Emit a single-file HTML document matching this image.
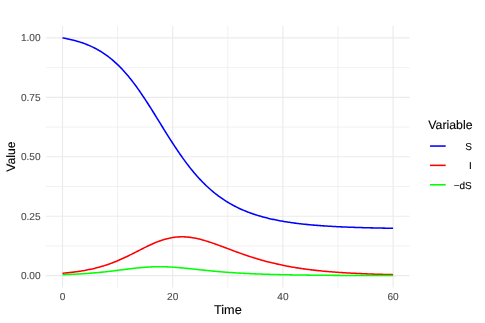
<!DOCTYPE html><html><head><meta charset="utf-8"><style>html,body{margin:0;padding:0;background:#fff}svg{display:block;will-change:transform}text{font-family:"Liberation Sans",sans-serif;text-rendering:geometricPrecision}</style></head><body>
<svg width="485" height="323" viewBox="0 0 485 323">
<rect width="485" height="323" fill="#fff"/>
<g stroke="#ebebeb" stroke-width="0.7" fill="none">
<line x1="45.9" x2="409.8" y1="245.94" y2="245.94"/>
<line x1="45.9" x2="409.8" y1="186.51" y2="186.51"/>
<line x1="45.9" x2="409.8" y1="127.07" y2="127.07"/>
<line x1="45.9" x2="409.8" y1="67.64" y2="67.64"/>
<line y1="26.0" y2="287.45" x1="117.60" x2="117.60"/>
<line y1="26.0" y2="287.45" x1="227.80" x2="227.80"/>
<line y1="26.0" y2="287.45" x1="338.00" x2="338.00"/>
</g>
<g stroke="#ebebeb" stroke-width="1.15" fill="none">
<line x1="45.9" x2="409.8" y1="275.66" y2="275.66"/>
<line x1="45.9" x2="409.8" y1="216.23" y2="216.23"/>
<line x1="45.9" x2="409.8" y1="156.79" y2="156.79"/>
<line x1="45.9" x2="409.8" y1="97.36" y2="97.36"/>
<line x1="45.9" x2="409.8" y1="37.92" y2="37.92"/>
<line y1="26.0" y2="287.45" x1="62.50" x2="62.50"/>
<line y1="26.0" y2="287.45" x1="172.70" x2="172.70"/>
<line y1="26.0" y2="287.45" x1="282.90" x2="282.90"/>
<line y1="26.0" y2="287.45" x1="393.10" x2="393.10"/>
</g>
<g fill="none" stroke-width="1.55" stroke-linejoin="round" stroke-linecap="butt">
<path stroke="#0000ff" d="M62.50,37.92 L63.60,38.11 L64.70,38.32 L65.81,38.53 L66.91,38.74 L68.01,38.97 L69.11,39.21 L70.21,39.45 L71.32,39.70 L72.42,39.97 L73.52,40.24 L74.62,40.53 L75.72,40.83 L76.83,41.13 L77.93,41.45 L79.03,41.78 L80.13,42.13 L81.23,42.49 L82.34,42.86 L83.44,43.24 L84.54,43.64 L85.64,44.05 L86.74,44.48 L87.85,44.93 L88.95,45.39 L90.05,45.87 L91.15,46.36 L92.25,46.87 L93.36,47.40 L94.46,47.95 L95.56,48.52 L96.66,49.11 L97.76,49.71 L98.87,50.34 L99.97,50.99 L101.07,51.66 L102.17,52.35 L103.27,53.07 L104.38,53.81 L105.48,54.57 L106.58,55.35 L107.68,56.16 L108.78,57.00 L109.89,57.86 L110.99,58.74 L112.09,59.65 L113.19,60.59 L114.29,61.56 L115.40,62.55 L116.50,63.56 L117.60,64.61 L118.70,65.68 L119.80,66.78 L120.91,67.91 L122.01,69.07 L123.11,70.25 L124.21,71.46 L125.31,72.70 L126.42,73.97 L127.52,75.27 L128.62,76.59 L129.72,77.94 L130.82,79.31 L131.93,80.72 L133.03,82.15 L134.13,83.60 L135.23,85.08 L136.33,86.58 L137.44,88.11 L138.54,89.66 L139.64,91.23 L140.74,92.82 L141.84,94.44 L142.95,96.07 L144.05,97.72 L145.15,99.39 L146.25,101.08 L147.35,102.78 L148.46,104.49 L149.56,106.22 L150.66,107.96 L151.76,109.71 L152.86,111.47 L153.97,113.24 L155.07,115.02 L156.17,116.80 L157.27,118.58 L158.37,120.37 L159.48,122.15 L160.58,123.94 L161.68,125.73 L162.78,127.51 L163.88,129.29 L164.99,131.07 L166.09,132.83 L167.19,134.60 L168.29,136.35 L169.39,138.09 L170.50,139.82 L171.60,141.54 L172.70,143.25 L173.80,144.94 L174.90,146.62 L176.01,148.28 L177.11,149.92 L178.21,151.55 L179.31,153.16 L180.41,154.75 L181.52,156.32 L182.62,157.87 L183.72,159.40 L184.82,160.90 L185.92,162.39 L187.03,163.86 L188.13,165.30 L189.23,166.72 L190.33,168.11 L191.43,169.49 L192.54,170.84 L193.64,172.17 L194.74,173.47 L195.84,174.75 L196.94,176.00 L198.05,177.24 L199.15,178.45 L200.25,179.63 L201.35,180.79 L202.45,181.93 L203.56,183.05 L204.66,184.14 L205.76,185.21 L206.86,186.26 L207.96,187.29 L209.07,188.29 L210.17,189.27 L211.27,190.23 L212.37,191.17 L213.47,192.09 L214.58,192.98 L215.68,193.86 L216.78,194.72 L217.88,195.56 L218.98,196.37 L220.09,197.17 L221.19,197.95 L222.29,198.71 L223.39,199.46 L224.49,200.19 L225.60,200.89 L226.70,201.59 L227.80,202.26 L228.90,202.92 L230.00,203.56 L231.11,204.19 L232.21,204.80 L233.31,205.40 L234.41,205.98 L235.51,206.55 L236.62,207.11 L237.72,207.65 L238.82,208.18 L239.92,208.69 L241.02,209.19 L242.13,209.68 L243.23,210.16 L244.33,210.62 L245.43,211.08 L246.53,211.52 L247.64,211.95 L248.74,212.37 L249.84,212.78 L250.94,213.18 L252.04,213.57 L253.15,213.95 L254.25,214.32 L255.35,214.68 L256.45,215.04 L257.55,215.38 L258.66,215.72 L259.76,216.04 L260.86,216.36 L261.96,216.67 L263.06,216.97 L264.17,217.27 L265.27,217.56 L266.37,217.84 L267.47,218.11 L268.57,218.38 L269.68,218.64 L270.78,218.89 L271.88,219.14 L272.98,219.38 L274.08,219.61 L275.19,219.84 L276.29,220.07 L277.39,220.28 L278.49,220.50 L279.59,220.70 L280.70,220.91 L281.80,221.10 L282.90,221.30 L284.00,221.48 L285.10,221.67 L286.21,221.84 L287.31,222.02 L288.41,222.19 L289.51,222.35 L290.61,222.51 L291.72,222.67 L292.82,222.82 L293.92,222.97 L295.02,223.12 L296.12,223.26 L297.23,223.40 L298.33,223.53 L299.43,223.66 L300.53,223.79 L301.63,223.92 L302.74,224.04 L303.84,224.16 L304.94,224.28 L306.04,224.39 L307.14,224.50 L308.25,224.61 L309.35,224.71 L310.45,224.82 L311.55,224.92 L312.65,225.01 L313.76,225.11 L314.86,225.20 L315.96,225.29 L317.06,225.38 L318.16,225.47 L319.27,225.55 L320.37,225.63 L321.47,225.71 L322.57,225.79 L323.67,225.87 L324.78,225.94 L325.88,226.02 L326.98,226.09 L328.08,226.15 L329.18,226.22 L330.29,226.29 L331.39,226.35 L332.49,226.41 L333.59,226.48 L334.69,226.54 L335.80,226.59 L336.90,226.65 L338.00,226.71 L339.10,226.76 L340.20,226.81 L341.31,226.86 L342.41,226.91 L343.51,226.96 L344.61,227.01 L345.71,227.06 L346.82,227.10 L347.92,227.15 L349.02,227.19 L350.12,227.23 L351.22,227.27 L352.33,227.31 L353.43,227.35 L354.53,227.39 L355.63,227.43 L356.73,227.46 L357.84,227.50 L358.94,227.53 L360.04,227.57 L361.14,227.60 L362.24,227.63 L363.35,227.66 L364.45,227.70 L365.55,227.72 L366.65,227.75 L367.75,227.78 L368.86,227.81 L369.96,227.84 L371.06,227.86 L372.16,227.89 L373.26,227.92 L374.37,227.94 L375.47,227.96 L376.57,227.99 L377.67,228.01 L378.77,228.03 L379.88,228.05 L380.98,228.08 L382.08,228.10 L383.18,228.12 L384.28,228.14 L385.39,228.16 L386.49,228.17 L387.59,228.19 L388.69,228.21 L389.79,228.23 L390.90,228.24 L392.00,228.26 L393.10,228.28"/>
<path stroke="#ff0000" d="M62.50,273.28 L63.60,273.19 L64.70,273.08 L65.81,272.98 L66.91,272.87 L68.01,272.76 L69.11,272.64 L70.21,272.52 L71.32,272.39 L72.42,272.26 L73.52,272.13 L74.62,271.99 L75.72,271.84 L76.83,271.69 L77.93,271.53 L79.03,271.37 L80.13,271.20 L81.23,271.02 L82.34,270.84 L83.44,270.65 L84.54,270.46 L85.64,270.26 L86.74,270.05 L87.85,269.83 L88.95,269.61 L90.05,269.38 L91.15,269.14 L92.25,268.89 L93.36,268.64 L94.46,268.38 L95.56,268.11 L96.66,267.83 L97.76,267.54 L98.87,267.24 L99.97,266.93 L101.07,266.62 L102.17,266.29 L103.27,265.96 L104.38,265.62 L105.48,265.26 L106.58,264.90 L107.68,264.53 L108.78,264.15 L109.89,263.76 L110.99,263.36 L112.09,262.94 L113.19,262.52 L114.29,262.09 L115.40,261.66 L116.50,261.21 L117.60,260.75 L118.70,260.28 L119.80,259.81 L120.91,259.32 L122.01,258.83 L123.11,258.33 L124.21,257.82 L125.31,257.30 L126.42,256.78 L127.52,256.25 L128.62,255.72 L129.72,255.17 L130.82,254.63 L131.93,254.08 L133.03,253.52 L134.13,252.97 L135.23,252.41 L136.33,251.84 L137.44,251.28 L138.54,250.72 L139.64,250.15 L140.74,249.59 L141.84,249.03 L142.95,248.48 L144.05,247.92 L145.15,247.37 L146.25,246.83 L147.35,246.29 L148.46,245.76 L149.56,245.24 L150.66,244.73 L151.76,244.22 L152.86,243.73 L153.97,243.25 L155.07,242.78 L156.17,242.33 L157.27,241.89 L158.37,241.46 L159.48,241.05 L160.58,240.65 L161.68,240.27 L162.78,239.91 L163.88,239.57 L164.99,239.24 L166.09,238.94 L167.19,238.65 L168.29,238.39 L169.39,238.14 L170.50,237.91 L171.60,237.71 L172.70,237.52 L173.80,237.36 L174.90,237.22 L176.01,237.10 L177.11,237.00 L178.21,236.92 L179.31,236.86 L180.41,236.82 L181.52,236.81 L182.62,236.81 L183.72,236.84 L184.82,236.88 L185.92,236.94 L187.03,237.03 L188.13,237.13 L189.23,237.25 L190.33,237.38 L191.43,237.54 L192.54,237.71 L193.64,237.90 L194.74,238.10 L195.84,238.32 L196.94,238.55 L198.05,238.80 L199.15,239.06 L200.25,239.33 L201.35,239.62 L202.45,239.91 L203.56,240.22 L204.66,240.54 L205.76,240.87 L206.86,241.20 L207.96,241.55 L209.07,241.90 L210.17,242.27 L211.27,242.63 L212.37,243.01 L213.47,243.39 L214.58,243.78 L215.68,244.17 L216.78,244.56 L217.88,244.96 L218.98,245.36 L220.09,245.77 L221.19,246.17 L222.29,246.58 L223.39,246.99 L224.49,247.41 L225.60,247.82 L226.70,248.23 L227.80,248.65 L228.90,249.06 L230.00,249.47 L231.11,249.88 L232.21,250.29 L233.31,250.70 L234.41,251.11 L235.51,251.52 L236.62,251.92 L237.72,252.32 L238.82,252.72 L239.92,253.11 L241.02,253.51 L242.13,253.89 L243.23,254.28 L244.33,254.66 L245.43,255.04 L246.53,255.42 L247.64,255.79 L248.74,256.15 L249.84,256.52 L250.94,256.87 L252.04,257.23 L253.15,257.58 L254.25,257.92 L255.35,258.27 L256.45,258.60 L257.55,258.93 L258.66,259.26 L259.76,259.58 L260.86,259.90 L261.96,260.22 L263.06,260.53 L264.17,260.83 L265.27,261.13 L266.37,261.42 L267.47,261.71 L268.57,262.00 L269.68,262.28 L270.78,262.56 L271.88,262.83 L272.98,263.09 L274.08,263.36 L275.19,263.61 L276.29,263.87 L277.39,264.12 L278.49,264.36 L279.59,264.60 L280.70,264.84 L281.80,265.07 L282.90,265.30 L284.00,265.52 L285.10,265.74 L286.21,265.95 L287.31,266.16 L288.41,266.37 L289.51,266.57 L290.61,266.77 L291.72,266.96 L292.82,267.16 L293.92,267.34 L295.02,267.53 L296.12,267.71 L297.23,267.88 L298.33,268.05 L299.43,268.22 L300.53,268.39 L301.63,268.55 L302.74,268.71 L303.84,268.87 L304.94,269.02 L306.04,269.17 L307.14,269.31 L308.25,269.46 L309.35,269.60 L310.45,269.73 L311.55,269.87 L312.65,270.00 L313.76,270.13 L314.86,270.25 L315.96,270.38 L317.06,270.50 L318.16,270.62 L319.27,270.73 L320.37,270.84 L321.47,270.95 L322.57,271.06 L323.67,271.17 L324.78,271.27 L325.88,271.37 L326.98,271.47 L328.08,271.57 L329.18,271.66 L330.29,271.75 L331.39,271.84 L332.49,271.93 L333.59,272.02 L334.69,272.10 L335.80,272.19 L336.90,272.27 L338.00,272.35 L339.10,272.42 L340.20,272.50 L341.31,272.57 L342.41,272.64 L343.51,272.71 L344.61,272.78 L345.71,272.85 L346.82,272.92 L347.92,272.98 L349.02,273.04 L350.12,273.10 L351.22,273.16 L352.33,273.22 L353.43,273.28 L354.53,273.34 L355.63,273.39 L356.73,273.44 L357.84,273.50 L358.94,273.55 L360.04,273.60 L361.14,273.64 L362.24,273.69 L363.35,273.74 L364.45,273.78 L365.55,273.83 L366.65,273.87 L367.75,273.91 L368.86,273.95 L369.96,273.99 L371.06,274.03 L372.16,274.07 L373.26,274.11 L374.37,274.15 L375.47,274.18 L376.57,274.22 L377.67,274.25 L378.77,274.29 L379.88,274.32 L380.98,274.35 L382.08,274.38 L383.18,274.41 L384.28,274.44 L385.39,274.47 L386.49,274.50 L387.59,274.53 L388.69,274.55 L389.79,274.58 L390.90,274.60 L392.00,274.63 L393.10,274.65"/>
<path stroke="#00ff00" d="M62.50,274.71 L63.60,274.67 L64.70,274.63 L65.81,274.59 L66.91,274.55 L68.01,274.50 L69.11,274.46 L70.21,274.41 L71.32,274.36 L72.42,274.31 L73.52,274.26 L74.62,274.21 L75.72,274.15 L76.83,274.09 L77.93,274.03 L79.03,273.97 L80.13,273.91 L81.23,273.84 L82.34,273.77 L83.44,273.70 L84.54,273.63 L85.64,273.55 L86.74,273.48 L87.85,273.40 L88.95,273.32 L90.05,273.23 L91.15,273.14 L92.25,273.06 L93.36,272.96 L94.46,272.87 L95.56,272.77 L96.66,272.67 L97.76,272.57 L98.87,272.47 L99.97,272.36 L101.07,272.25 L102.17,272.14 L103.27,272.03 L104.38,271.91 L105.48,271.79 L106.58,271.67 L107.68,271.55 L108.78,271.42 L109.89,271.30 L110.99,271.17 L112.09,271.04 L113.19,270.91 L114.29,270.77 L115.40,270.64 L116.50,270.50 L117.60,270.36 L118.70,270.23 L119.80,270.09 L120.91,269.95 L122.01,269.81 L123.11,269.67 L124.21,269.53 L125.31,269.39 L126.42,269.25 L127.52,269.12 L128.62,268.98 L129.72,268.85 L130.82,268.71 L131.93,268.58 L133.03,268.45 L134.13,268.33 L135.23,268.20 L136.33,268.08 L137.44,267.97 L138.54,267.85 L139.64,267.75 L140.74,267.64 L141.84,267.54 L142.95,267.45 L144.05,267.36 L145.15,267.27 L146.25,267.19 L147.35,267.12 L148.46,267.05 L149.56,266.99 L150.66,266.93 L151.76,266.88 L152.86,266.84 L153.97,266.80 L155.07,266.77 L156.17,266.75 L157.27,266.73 L158.37,266.72 L159.48,266.72 L160.58,266.72 L161.68,266.73 L162.78,266.75 L163.88,266.77 L164.99,266.80 L166.09,266.84 L167.19,266.88 L168.29,266.92 L169.39,266.98 L170.50,267.03 L171.60,267.10 L172.70,267.16 L173.80,267.24 L174.90,267.31 L176.01,267.40 L177.11,267.48 L178.21,267.57 L179.31,267.66 L180.41,267.76 L181.52,267.86 L182.62,267.96 L183.72,268.07 L184.82,268.17 L185.92,268.28 L187.03,268.39 L188.13,268.50 L189.23,268.62 L190.33,268.73 L191.43,268.85 L192.54,268.97 L193.64,269.08 L194.74,269.20 L195.84,269.32 L196.94,269.44 L198.05,269.56 L199.15,269.67 L200.25,269.79 L201.35,269.91 L202.45,270.02 L203.56,270.14 L204.66,270.25 L205.76,270.37 L206.86,270.48 L207.96,270.59 L209.07,270.70 L210.17,270.81 L211.27,270.91 L212.37,271.02 L213.47,271.12 L214.58,271.22 L215.68,271.33 L216.78,271.42 L217.88,271.52 L218.98,271.62 L220.09,271.71 L221.19,271.80 L222.29,271.90 L223.39,271.98 L224.49,272.07 L225.60,272.16 L226.70,272.24 L227.80,272.32 L228.90,272.40 L230.00,272.48 L231.11,272.56 L232.21,272.64 L233.31,272.71 L234.41,272.78 L235.51,272.85 L236.62,272.92 L237.72,272.99 L238.82,273.06 L239.92,273.12 L241.02,273.18 L242.13,273.24 L243.23,273.30 L244.33,273.36 L245.43,273.42 L246.53,273.48 L247.64,273.53 L248.74,273.58 L249.84,273.63 L250.94,273.69 L252.04,273.73 L253.15,273.78 L254.25,273.83 L255.35,273.88 L256.45,273.92 L257.55,273.96 L258.66,274.01 L259.76,274.05 L260.86,274.09 L261.96,274.13 L263.06,274.17 L264.17,274.20 L265.27,274.24 L266.37,274.27 L267.47,274.31 L268.57,274.34 L269.68,274.38 L270.78,274.41 L271.88,274.44 L272.98,274.47 L274.08,274.50 L275.19,274.53 L276.29,274.56 L277.39,274.58 L278.49,274.61 L279.59,274.64 L280.70,274.66 L281.80,274.69 L282.90,274.71 L284.00,274.74 L285.10,274.76 L286.21,274.78 L287.31,274.80 L288.41,274.82 L289.51,274.84 L290.61,274.87 L291.72,274.88 L292.82,274.90 L293.92,274.92 L295.02,274.94 L296.12,274.96 L297.23,274.98 L298.33,274.99 L299.43,275.01 L300.53,275.03 L301.63,275.04 L302.74,275.06 L303.84,275.07 L304.94,275.09 L306.04,275.10 L307.14,275.11 L308.25,275.13 L309.35,275.14 L310.45,275.15 L311.55,275.17 L312.65,275.18 L313.76,275.19 L314.86,275.20 L315.96,275.21 L317.06,275.22 L318.16,275.23 L319.27,275.24 L320.37,275.25 L321.47,275.26 L322.57,275.27 L323.67,275.28 L324.78,275.29 L325.88,275.30 L326.98,275.31 L328.08,275.32 L329.18,275.33 L330.29,275.34 L331.39,275.34 L332.49,275.35 L333.59,275.36 L334.69,275.37 L335.80,275.37 L336.90,275.38 L338.00,275.39 L339.10,275.39 L340.20,275.40 L341.31,275.41 L342.41,275.41 L343.51,275.42 L344.61,275.42 L345.71,275.43 L346.82,275.44 L347.92,275.44 L349.02,275.45 L350.12,275.45 L351.22,275.46 L352.33,275.46 L353.43,275.47 L354.53,275.47 L355.63,275.48 L356.73,275.48 L357.84,275.48 L358.94,275.49 L360.04,275.49 L361.14,275.50 L362.24,275.50 L363.35,275.50 L364.45,275.51 L365.55,275.51 L366.65,275.52 L367.75,275.52 L368.86,275.52 L369.96,275.53 L371.06,275.53 L372.16,275.53 L373.26,275.54 L374.37,275.54 L375.47,275.54 L376.57,275.54 L377.67,275.55 L378.77,275.55 L379.88,275.55 L380.98,275.56 L382.08,275.56 L383.18,275.56 L384.28,275.56 L385.39,275.56 L386.49,275.57 L387.59,275.57 L388.69,275.57 L389.79,275.57 L390.90,275.58 L392.00,275.58 L393.10,275.58"/>
</g>
<g font-size="10.1" fill="#4d4d4d" stroke="#4d4d4d" stroke-width="0.12">
<text x="40.6" y="279.01" text-anchor="end">0.00</text>
<text x="40.6" y="219.58" text-anchor="end">0.25</text>
<text x="40.6" y="160.14" text-anchor="end">0.50</text>
<text x="40.6" y="100.71" text-anchor="end">0.75</text>
<text x="40.6" y="41.27" text-anchor="end">1.00</text>
<text x="62.50" y="299.9" text-anchor="middle">0</text>
<text x="172.70" y="299.9" text-anchor="middle">20</text>
<text x="282.90" y="299.9" text-anchor="middle">40</text>
<text x="393.10" y="299.9" text-anchor="middle">60</text>
</g>
<g font-size="12.4" fill="#000" stroke="#000" stroke-width="0.12">
<text x="227.85" y="313.8" text-anchor="middle" font-size="12.7">Time</text>
<text transform="translate(15.4,156.6) rotate(-90)" text-anchor="middle" font-size="12.2">Value</text>
<text x="428.3" y="128.9" font-size="12.3">Variable</text>
</g>
<g fill="none" stroke-width="1.55">
<line x1="430.0" x2="445.7" y1="146.05" y2="146.05" stroke="#0000ff"/>
<line x1="430.0" x2="445.7" y1="165.36" y2="165.36" stroke="#ff0000"/>
<line x1="430.0" x2="445.7" y1="184.8" y2="184.8" stroke="#00ff00"/>
</g>
<g font-size="10.0" fill="#000" text-anchor="end" stroke="#000" stroke-width="0.12">
<text x="471.8" y="150.10">S</text>
<text x="471.8" y="168.90">I</text>
<text x="471.8" y="188.80">−dS</text>
</g>
</svg></body></html>
